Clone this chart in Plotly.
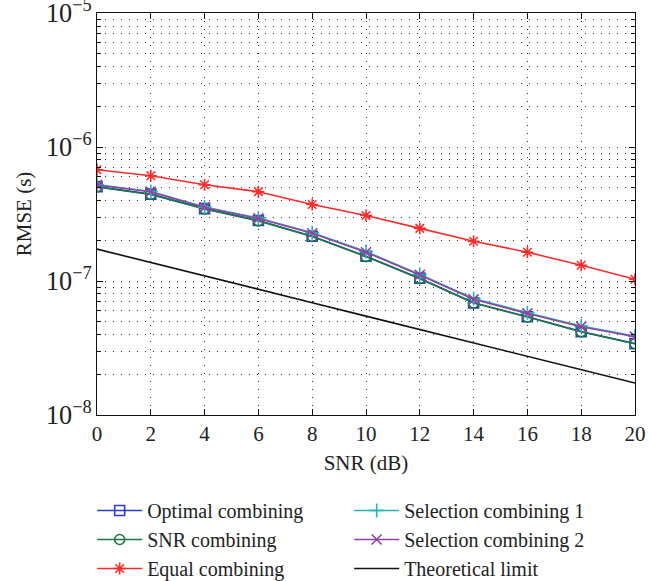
import plotly.graph_objects as go

snr = [0, 2, 4, 6, 8, 10, 12, 14, 16, 18, 20]
optimal = [5.06e-7, 4.45e-7, 3.47e-7, 2.83e-7, 2.16e-7, 1.53e-7, 1.05e-7, 6.87e-8, 5.41e-8, 4.19e-8, 3.41e-8]
snr_comb = [5.03e-7, 4.42e-7, 3.45e-7, 2.81e-7, 2.15e-7, 1.52e-7, 1.04e-7, 6.85e-8, 5.39e-8, 4.18e-8, 3.40e-8]
equal = [6.76e-7, 6.1e-7, 5.23e-7, 4.64e-7, 3.72e-7, 3.08e-7, 2.47e-7, 1.98e-7, 1.64e-7, 1.31e-7, 1.03e-7]
sel1 = [5.22e-7, 4.66e-7, 3.56e-7, 2.95e-7, 2.29e-7, 1.66e-7, 1.12e-7, 7.4e-8, 5.8e-8, 4.62e-8, 3.88e-8]
sel2 = [5.2e-7, 4.64e-7, 3.54e-7, 2.93e-7, 2.27e-7, 1.64e-7, 1.11e-7, 7.3e-8, 5.73e-8, 4.56e-8, 3.84e-8]
theory = [1.73e-7, 1.37e-7, 1.09e-7, 8.67e-8, 6.89e-8, 5.47e-8, 4.35e-8, 3.45e-8, 2.74e-8, 2.18e-8, 1.73e-8]

names = ["Optimal combining", "SNR combining", "Equal combining",
         "Selection combining 1", "Selection combining 2", "Theoretical limit"]
series = [optimal, snr_comb, equal, sel1, sel2, theory]
colors = ["#2a3fbf", "#1a7a46", "#ff2a2a", "#1fb5b5", "#9540a5", "#111111"]
symbols = ["square-open", "circle-open", "asterisk-open", "cross-thin-open", "x-thin-open", None]
ranks = [1, 3, 5, 2, 4, 6]
draw_order = [0, 1, 3, 4, 2, 5]

fig = go.Figure()
for i in draw_order:
    mode = "lines+markers" if symbols[i] else "lines"
    marker = dict(symbol=symbols[i], size=10, color=colors[i],
                  line=dict(color=colors[i], width=1.6)) if symbols[i] else None
    fig.add_trace(go.Scatter(
        x=snr, y=series[i], name=names[i], mode=mode,
        line=dict(color=colors[i], width=1.6),
        marker=marker, legendrank=ranks[i],
    ))

font_family = "Liberation Serif, DejaVu Serif, serif"
grid_dash = "1px,7px"

fig.update_layout(
    width=651, height=581,
    margin=dict(l=97, r=16, t=13, b=166, autoexpand=False),
    paper_bgcolor="white", plot_bgcolor="white",
    font=dict(family=font_family, size=21, color="#222"),
    showlegend=True,
    legend=dict(
        orientation="h", x=-0.009, xanchor="left", y=-0.189, yanchor="top",
        entrywidth=197, entrywidthmode="pixels",
        font=dict(size=20, family=font_family, color="#222"),
        itemwidth=45, tracegroupgap=0,
    ),
    xaxis=dict(
        range=[0, 20], dtick=2, tick0=0, automargin=False,
        ticks="inside", ticklen=6, tickcolor="#111",
        showline=True, linecolor="#111", linewidth=1.2, mirror="allticks",
        showgrid=True, gridcolor="#333", griddash=grid_dash, gridwidth=1,
        zeroline=False, ticklabeloverflow="allow",
        title=dict(text="SNR (dB)", font=dict(size=21), standoff=10),
        tickfont=dict(size=21),
    ),
    yaxis=dict(
        type="log", range=[-8.0001, -4.9999], dtick=1, automargin=False,
        exponentformat="power", showexponent="all",
        ticks="inside", ticklen=6, tickcolor="#111",
        showline=True, linecolor="#111", linewidth=1.2, mirror="allticks",
        showgrid=True, gridcolor="#333", griddash=grid_dash, gridwidth=1,
        zeroline=False, ticklabeloverflow="allow",
        minor=dict(dtick="D1", showgrid=True, gridcolor="#333", griddash=grid_dash,
                   gridwidth=1, ticks="inside", ticklen=4, tickcolor="#111"),
        title=dict(text="RMSE (s)", font=dict(size=21), standoff=8),
        tickfont=dict(size=21),
    ),
)

fig.write_html("out.html", config={"displayModeBar": False},
               post_script="document.body.style.margin='0';")
